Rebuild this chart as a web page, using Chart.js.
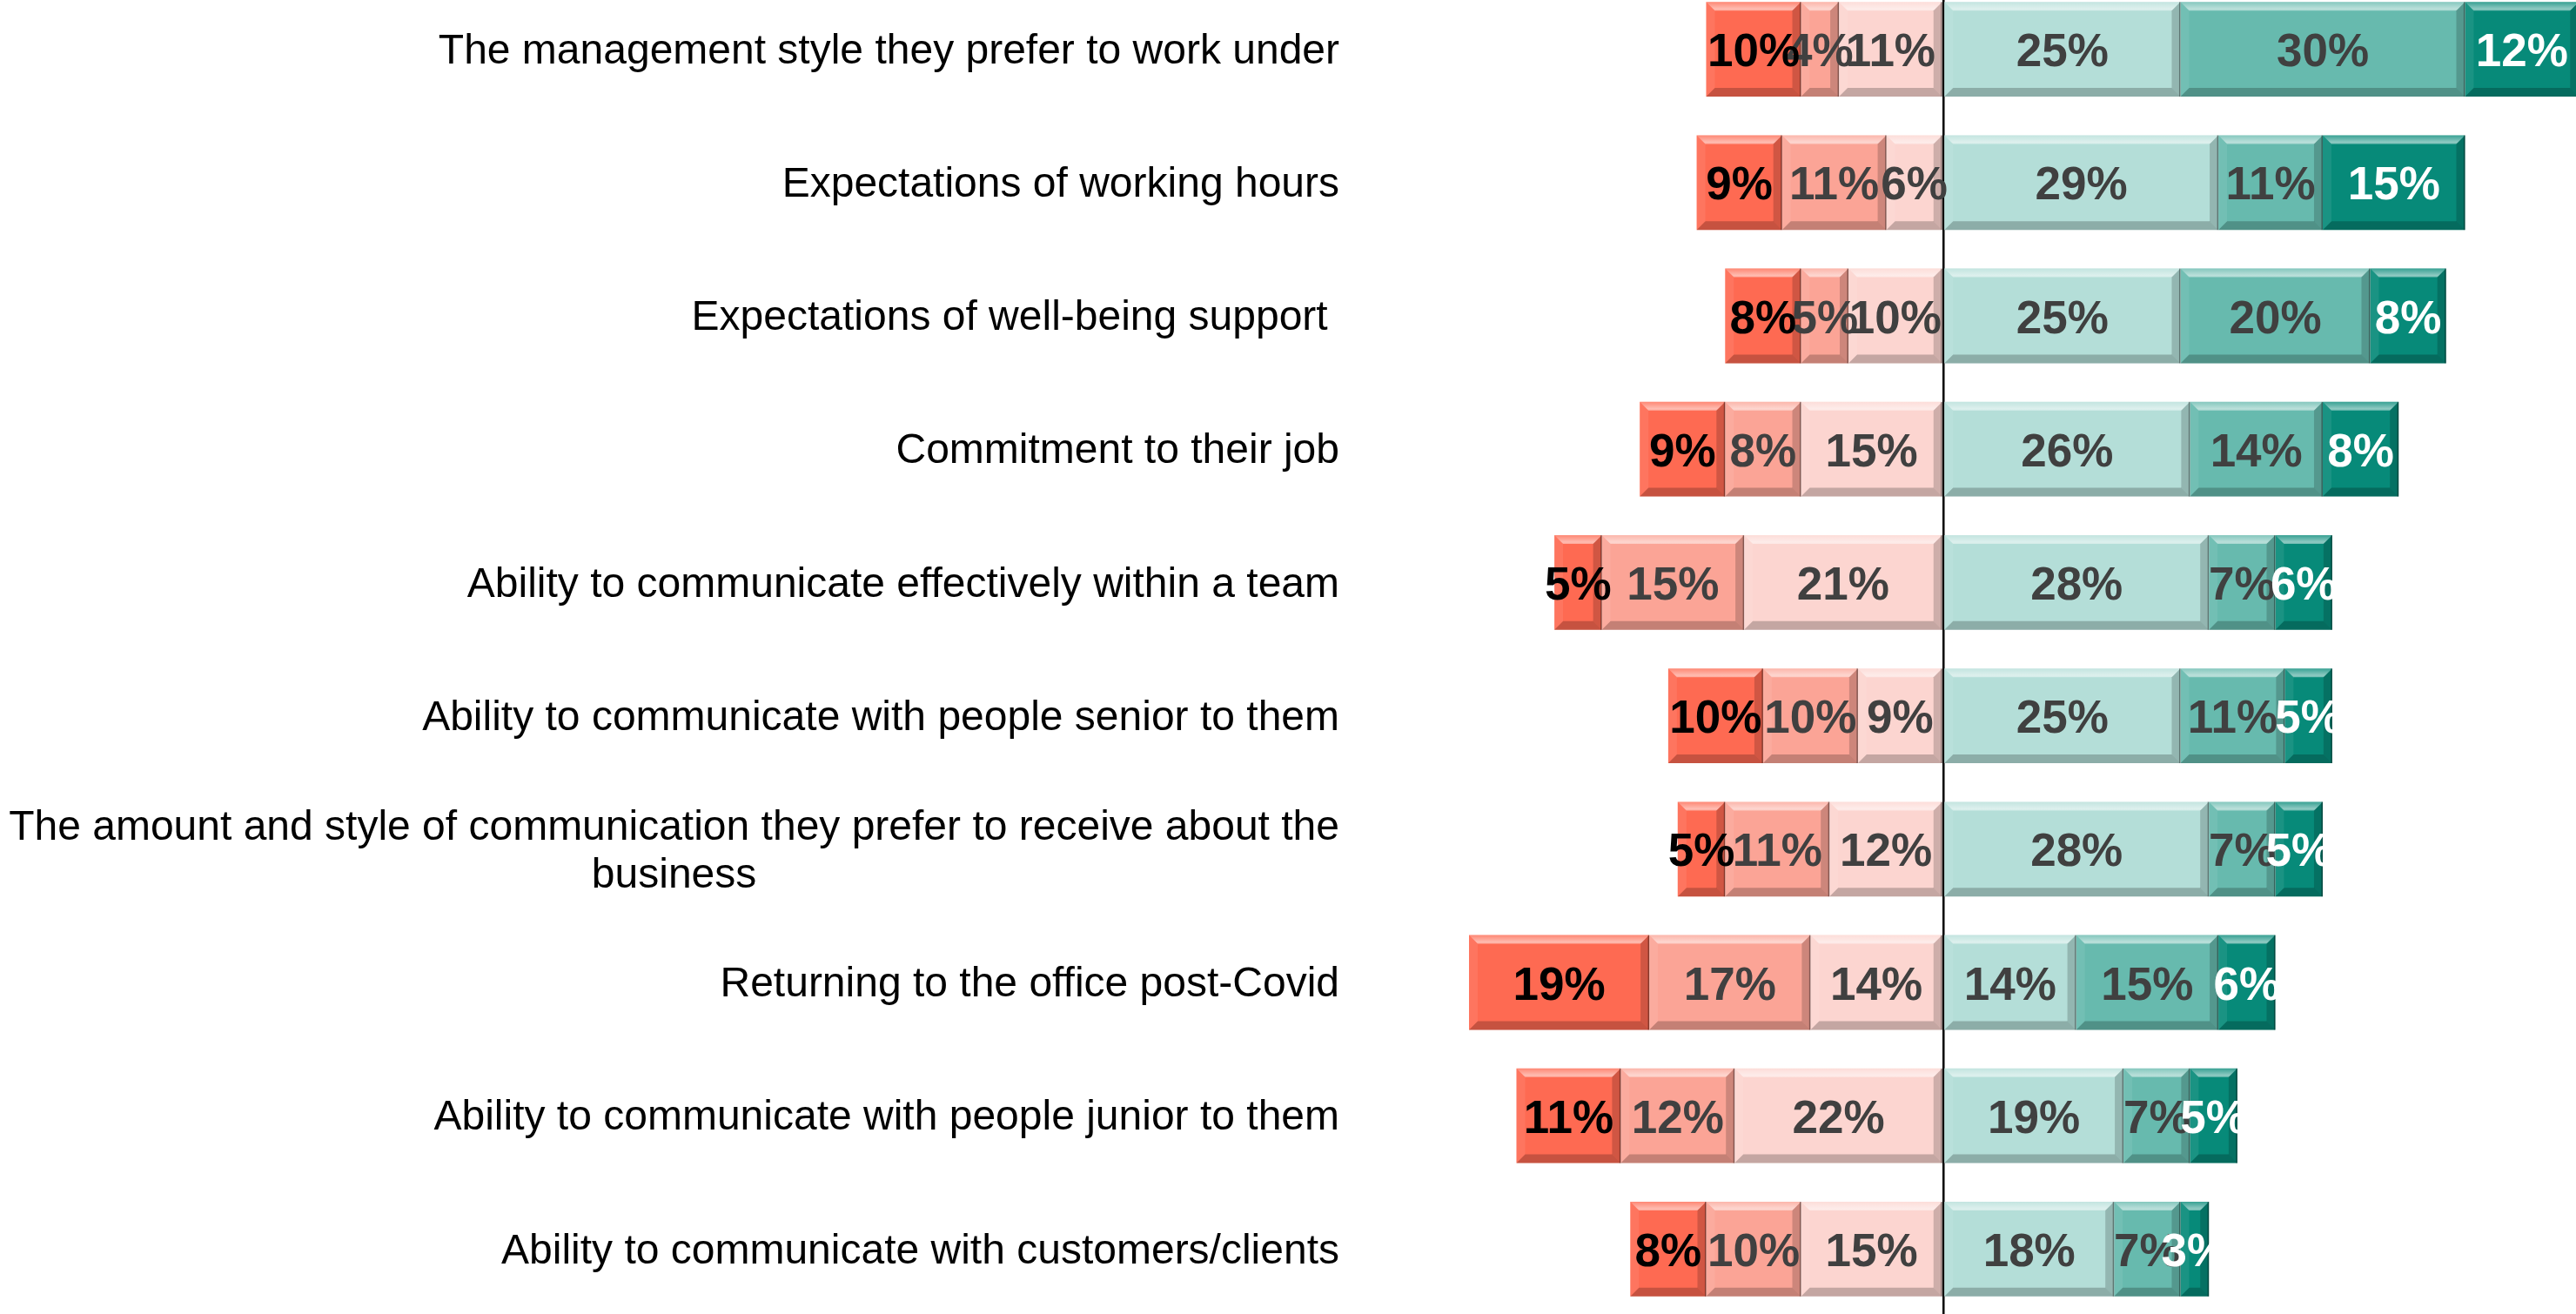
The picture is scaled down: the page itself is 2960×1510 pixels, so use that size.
<!DOCTYPE html>
<html>
<head>
<meta charset="utf-8">
<script src="https://cdn.jsdelivr.net/npm/chart.js@4/dist/chart.umd.min.js"></script>
<style>
  body { margin: 0; background: #fff; }
  #wrap { width: 2960px; height: 1510px; position: relative; overflow: hidden; }
  #inner { position: absolute; left: 0; top: -20px; width: 2960px; height: 1532px; }
</style>
</head>
<body>
<div id="wrap"><div id="inner"><canvas id="myChart"></canvas></div></div>
<script>
const categories = [
  'The management style they prefer to work under',
  'Expectations of working hours',
  'Expectations of well-being support ',
  'Commitment to their job',
  'Ability to communicate effectively within a team',
  'Ability to communicate with people senior to them',
  ['The amount and style of communication they prefer to receive about the', 'business'],
  'Returning to the office post-Covid',
  'Ability to communicate with people junior to them',
  'Ability to communicate with customers/clients'
];
// negative side (shown to the left of the line)
const strongNeg = [10, 9, 8, 9, 5, 10, 5, 19, 11, 8];
const neg       = [4, 11, 5, 8, 15, 10, 11, 17, 12, 10];
const slightNeg = [11, 6, 10, 15, 21, 9, 12, 14, 22, 15];
// positive side
const slightPos = [25, 29, 25, 26, 28, 25, 28, 14, 19, 18];
const pos       = [30, 11, 20, 14, 7, 11, 7, 15, 7, 7];
const strongPos = [12, 15, 8, 8, 6, 5, 5, 6, 5, 3];

const FONT = 'Arial, "Liberation Sans", sans-serif';

function mkSet(vals, sign, color, textColor) {
  return {
    data: vals.map(v => v * sign),
    raw: vals,
    backgroundColor: color,
    textColor: textColor,
    borderWidth: 0,
    stack: 'all',
    barPercentage: 0.71,
    categoryPercentage: 1
  };
}

// bevel look + percentage labels on each segment
const barDeco = {
  id: 'barDeco',
  afterDatasetsDraw(chart) {
    const ctx = chart.ctx;
    ctx.save();
    chart.data.datasets.forEach((ds, di) => {
      chart.getDatasetMeta(di).data.forEach(bar => {
        const p = bar.getProps(['x', 'y', 'base', 'height'], true);
        const l = Math.min(p.x, p.base), r = Math.max(p.x, p.base);
        const t = p.y - p.height / 2, b = p.y + p.height / 2;
        const bv = Math.min(10, (r - l) / 2);
        // top
        let g = ctx.createLinearGradient(0, t, 0, t + bv + 6);
        g.addColorStop(0, 'rgba(255,255,255,0.2)');
        g.addColorStop(0.5, 'rgba(255,255,255,0.55)');
        g.addColorStop(1, 'rgba(255,255,255,0)');
        ctx.fillStyle = g;
        ctx.beginPath();
        ctx.moveTo(l, t); ctx.lineTo(r, t); ctx.lineTo(r - bv, t + bv); ctx.lineTo(l + bv, t + bv);
        ctx.closePath(); ctx.fill();
        // bottom
        ctx.fillStyle = 'rgba(0,0,0,0.22)';
        ctx.beginPath();
        ctx.moveTo(l, b); ctx.lineTo(r, b); ctx.lineTo(r - bv, b - bv); ctx.lineTo(l + bv, b - bv);
        ctx.closePath(); ctx.fill();
        // right
        ctx.fillStyle = 'rgba(0,0,0,0.18)';
        ctx.beginPath();
        ctx.moveTo(r, t); ctx.lineTo(r, b); ctx.lineTo(r - bv, b - bv); ctx.lineTo(r - bv, t + bv);
        ctx.closePath(); ctx.fill();
        ctx.fillStyle = 'rgba(0,0,0,0.35)';
        ctx.fillRect(r - 1.5, t, 1.5, p.height);
        // left
        ctx.fillStyle = 'rgba(255,255,255,0.08)';
        ctx.beginPath();
        ctx.moveTo(l, t); ctx.lineTo(l, b); ctx.lineTo(l + bv, b - bv); ctx.lineTo(l + bv, t + bv);
        ctx.closePath(); ctx.fill();
      });
    });
    ctx.font = 'bold 53px ' + FONT;
    ctx.textAlign = 'center';
    ctx.textBaseline = 'middle';
    chart.data.datasets.forEach((ds, di) => {
      ctx.fillStyle = ds.textColor;
      chart.getDatasetMeta(di).data.forEach((bar, i) => {
        const p = bar.getProps(['x', 'y', 'base'], true);
        ctx.fillText(ds.raw[i] + '%', (p.x + p.base) / 2, p.y + 5);
      });
    });
    ctx.restore();
  },
  afterDraw(chart) {
    // category labels, right aligned; wrapped lines centred under the first
    const ctx = chart.ctx;
    const ys = chart.scales.y;
    const right = 1539;
    ctx.save();
    ctx.font = '48px ' + FONT;
    ctx.fillStyle = '#000';
    ctx.textBaseline = 'middle';
    categories.forEach((c, i) => {
      const y = ys.getPixelForValue(i) + 3;
      if (Array.isArray(c)) {
        const w = Math.max(...c.map(s => ctx.measureText(s).width));
        ctx.textAlign = 'center';
        const lh = 55;
        c.forEach((s, k) => {
          ctx.fillText(s, right - w / 2, y + (k - (c.length - 1) / 2) * lh);
        });
      } else {
        ctx.textAlign = 'right';
        ctx.fillText(c, right, y);
      }
    });
    ctx.restore();
  }
};

const ctx = document.getElementById('myChart').getContext('2d');
let myChart = new Chart(ctx, {
  type: 'bar',
  data: {
    labels: categories,
    datasets: [
      mkSet(slightNeg, -1, '#FCD5D0', '#404040'),
      mkSet(neg, -1, '#FBA496', '#404040'),
      mkSet(strongNeg, -1, '#FE6A52', '#000000'),
      mkSet(slightPos, 1, '#B4DED8', '#404040'),
      mkSet(pos, 1, '#67BAAE', '#404040'),
      mkSet(strongPos, 1, '#078A79', '#ffffff')
    ]
  },
  options: {
    indexAxis: 'y',
    responsive: true,
    maintainAspectRatio: false,
    animation: false,
    layout: { padding: { left: 1579, right: 0, top: 0, bottom: 0 } },
    scales: {
      x: {
        stacked: true,
        min: -60,
        max: 66.7,
        z: 1,
        afterFit: s => { s.height = 0; },
        ticks: { display: false, stepSize: 10 },
        border: { display: false },
        grid: {
          drawTicks: false,
          lineWidth: 2.5,
          color: c => c.tick && c.tick.value === 0 ? '#000' : 'rgba(0,0,0,0)'
        }
      },
      y: {
        stacked: true,
        display: false
      }
    },
    plugins: {
      legend: { display: false },
      tooltip: { enabled: false },
      title: { display: false }
    }
  },
  plugins: [barDeco]
});
</script>
</body>
</html>
